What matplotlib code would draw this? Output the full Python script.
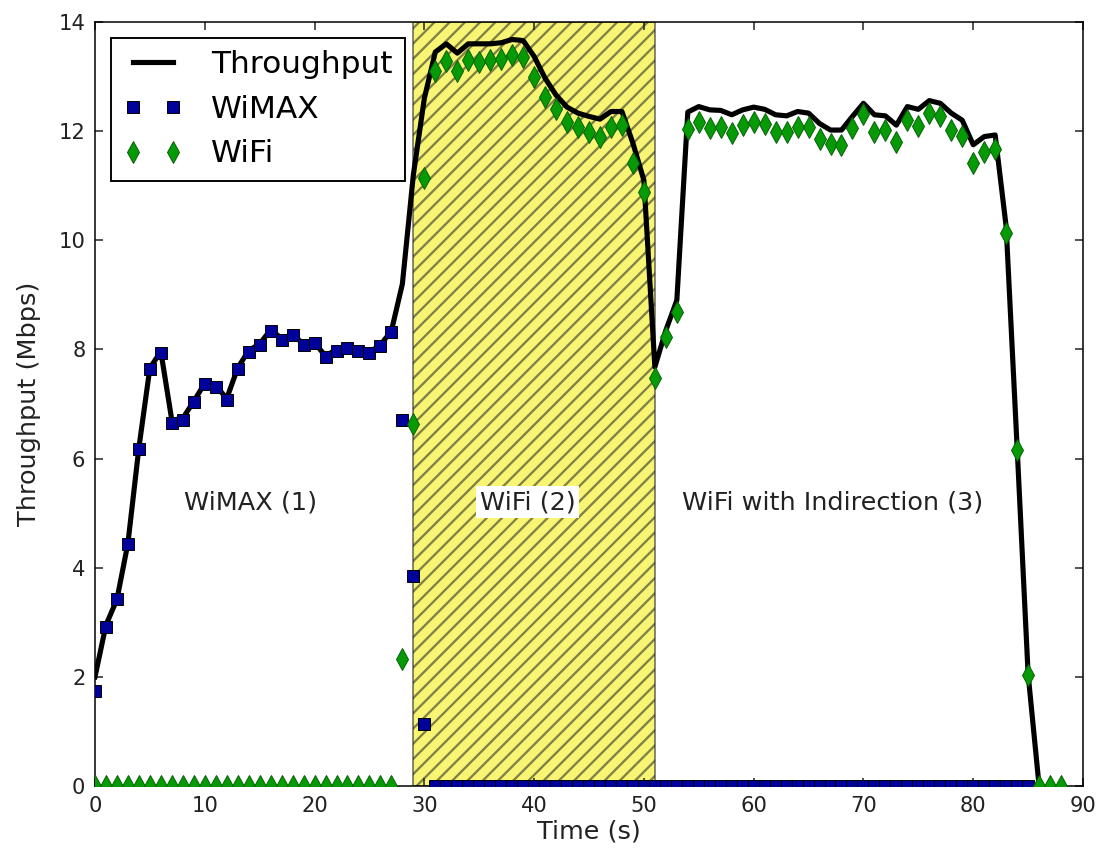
import matplotlib
matplotlib.use('Agg')
import matplotlib.pyplot as plt
import numpy as np

# throughput per second, measured on the mobile node
throughput_t = np.arange(0, 87)
throughput = [
    2.00, 2.95, 3.42, 4.45, 6.20, 7.66, 7.96, 6.70, 6.74, 7.05,
    7.38, 7.34, 7.10, 7.66, 7.98, 8.10, 8.36, 8.20, 8.27, 8.10,
    8.12, 7.88, 8.00, 8.05, 8.00, 7.95, 8.08, 8.34, 9.20, 11.20,
    12.60, 13.45, 13.60, 13.43, 13.60, 13.60, 13.60, 13.62, 13.68, 13.66,
    13.37, 12.97, 12.66, 12.44, 12.33, 12.27, 12.22, 12.36, 12.36, 11.78,
    11.10, 7.68, 8.35, 8.90, 12.35, 12.45, 12.39, 12.38, 12.30, 12.39,
    12.44, 12.40, 12.30, 12.28, 12.36, 12.33, 12.14, 12.02, 12.02, 12.27,
    12.51, 12.30, 12.28, 12.11, 12.45, 12.40, 12.56, 12.51, 12.33, 12.20,
    11.75, 11.90, 11.93, 10.25, 6.20, 2.05, 0.00,
]

wimax_t = np.arange(0, 86)
wimax = [
    1.75, 2.92, 3.42, 4.43, 6.18, 7.65, 7.94, 6.66, 6.71, 7.03,
    7.36, 7.32, 7.07, 7.64, 7.96, 8.09, 8.34, 8.17, 8.26, 8.09,
    8.11, 7.86, 7.98, 8.03, 7.97, 7.93, 8.06, 8.32, 6.71, 3.85,
    1.13, 0, 0, 0, 0, 0, 0, 0, 0, 0,
    0, 0, 0, 0, 0, 0, 0, 0, 0, 0,
    0, 0, 0, 0, 0, 0, 0, 0, 0, 0,
    0, 0, 0, 0, 0, 0, 0, 0, 0, 0,
    0, 0, 0, 0, 0, 0, 0, 0, 0, 0,
    0, 0, 0, 0, 0, 0,
]

wifi_t = np.arange(0, 89)
wifi = [
    0, 0, 0, 0, 0, 0, 0, 0, 0, 0,
    0, 0, 0, 0, 0, 0, 0, 0, 0, 0,
    0, 0, 0, 0, 0, 0, 0, 0, 2.33, 6.63,
    11.15, 13.10, 13.29, 13.10, 13.30, 13.27, 13.30, 13.32, 13.40, 13.35,
    13.00, 12.63, 12.40, 12.17, 12.08, 11.99, 11.90, 12.08, 12.11, 11.42,
    10.89, 7.48, 8.22, 8.69, 12.04, 12.17, 12.05, 12.08, 11.96, 12.11,
    12.17, 12.14, 11.99, 11.99, 12.07, 12.08, 11.85, 11.76, 11.75, 12.05,
    12.31, 11.99, 12.02, 11.81, 12.20, 12.09, 12.33, 12.27, 12.02, 11.91,
    11.42, 11.62, 11.67, 10.13, 6.16, 2.03, 0, 0, 0,
]

# handover phases
wifi_span = (29, 51)
phase_labels = ['WiMAX (1)', 'WiFi (2)', 'WiFi with Indirection (3)']
phase_x = [14.2, 39.4, 67.2]
phase_y = 5.2

plt.rcParams['hatch.linewidth'] = 1.2

fig = plt.figure(figsize=(8.0, 850 / 137.375), dpi=137.375)
ax = fig.add_axes([95 / 1099, 64 / 850, 988 / 1099, 764 / 850])

ax.axvspan(wifi_span[0], wifi_span[1], facecolor='#f2ee00', edgecolor='#202020',
           alpha=0.55, hatch='///', lw=1, zorder=0)

ax.plot(throughput_t, throughput, color='k', lw=2.7, label='Throughput', zorder=2)
ax.plot(wimax_t, wimax, ls='none', marker='s', ms=6.5, mfc='#00009a', mec='k',
        mew=0.5, label='WiMAX', zorder=3)
ax.plot(wifi_t, wifi, ls='none', marker='d', ms=8, mfc='#079a07', mec='#056005',
        mew=0.5, label='WiFi', zorder=3)

for lab, xx in zip(phase_labels, phase_x):
    kw = {}
    if lab.startswith('WiFi (2)'):
        kw['bbox'] = dict(facecolor='white', edgecolor='none', pad=2)
    ax.text(xx, phase_y, lab, ha='center', va='center', fontsize=13.4,
            color='#222222', zorder=4, **kw)

ax.set_xlim(0, 90)
ax.set_ylim(0, 14)
ax.set_xticks(np.arange(0, 91, 10))
ax.set_yticks(np.arange(0, 15, 2))
ax.tick_params(direction='in', top=True, right=True, length=4, labelsize=11,
               colors='#222222', pad=5)
ax.set_xlabel('Time (s)', fontsize=13.4, color='#222222', labelpad=2)
ax.set_ylabel('Throughput (Mbps)', fontsize=13.4, color='#222222', labelpad=9)

leg = ax.legend(loc='upper left', numpoints=2, fontsize=16.4, fancybox=False,
                handlelength=1.9, handletextpad=0.9, borderaxespad=0.5,
                framealpha=1)
leg.get_frame().set_edgecolor('k')
leg.get_frame().set_linewidth(1)
leg.set_zorder(5)

fig.savefig('out.png', dpi=137.375, facecolor='white')
